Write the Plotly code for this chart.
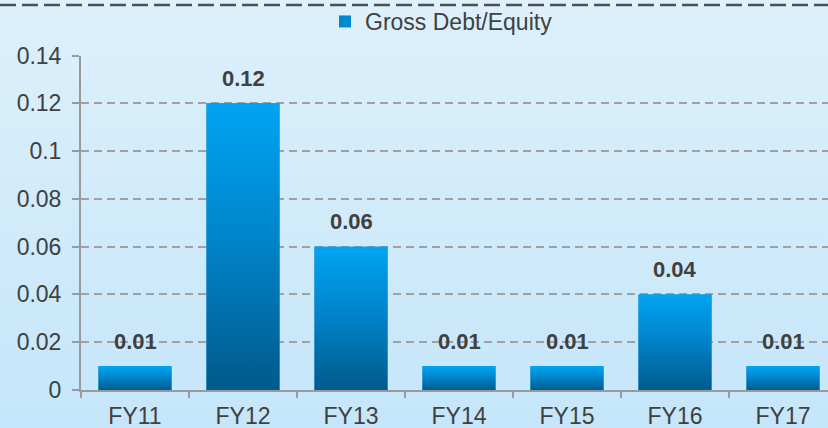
import plotly.graph_objects as go

# ---- data ----
categories = ["FY11", "FY12", "FY13", "FY14", "FY15", "FY16", "FY17"]
gross_debt_equity = [0.01, 0.12, 0.06, 0.01, 0.01, 0.04, 0.01]
value_labels = ["0.01", "0.12", "0.06", "0.01", "0.01", "0.04", "0.01"]
y_tick_vals = [0, 0.02, 0.04, 0.06, 0.08, 0.10, 0.12, 0.14]
y_tick_text = ["0", "0.02", "0.04", "0.06", "0.08", "0.1", "0.12", "0.14"]
series_name = "Gross Debt/Equity"

# ---- style ----
W, H = 828, 428
FONT = "Liberation Sans, Arial, sans-serif"
FS = 23
TXT = "#404040"
AX = "#9a9a9a"
BAR_W = 0.676
x_range = [-0.5, -0.5 + (W - 81) / 108.0]
bar_scale = [[0, "#005a8c"], [0.5, "#0082c8"], [1, "#00a4f2"]]

fig = go.Figure()

# background gradient (full paper)
fig.add_trace(go.Scatter(
    x=[0, 1, 1, 0, 0], y=[0, 0, 1, 1, 0], xaxis="x", yaxis="y",
    mode="lines", line=dict(width=0), fill="toself",
    fillgradient=dict(type="vertical", colorscale=[[0, "#c5e6fa"], [1, "#ddf0fb"]]),
    showlegend=False, hoverinfo="skip"))

# main bars (for legend / structure)
fig.add_trace(go.Bar(
    x=categories, y=gross_debt_equity, name=series_name,
    xaxis="x2", yaxis="y2", width=BAR_W,
    marker=dict(color="#0088d0", line=dict(width=0)),
    hoverinfo="skip"))

# gradient overlays, one per bar
for i, v in enumerate(gross_debt_equity):
    x0, x1 = i - BAR_W / 2, i + BAR_W / 2
    fig.add_trace(go.Scatter(
        x=[x0, x1, x1, x0, x0], y=[0, 0, v, v, 0], xaxis="x3", yaxis="y2",
        mode="lines", line=dict(width=0), fill="toself",
        fillgradient=dict(type="vertical", colorscale=bar_scale),
        showlegend=False, hoverinfo="skip"))

# value labels
for c, v, t in zip(categories, gross_debt_equity, value_labels):
    fig.add_annotation(x=c, y=v, xref="x2", yref="y2", text="<b>%s</b>" % t,
                       showarrow=False, yanchor="middle", yshift=25,
                       font=dict(family=FONT, size=FS - 1, color=TXT))

# top dashed rule
fig.add_shape(type="line", xref="paper", yref="paper", x0=0, x1=1,
              y0=1 - 5 / H, y1=1 - 5 / H,
              line=dict(color="#4f4f4f", width=2.5, dash="16px,6px"))

fig.update_layout(
    template="none",
    width=W, height=H,
    margin=dict(l=0, r=0, t=0, b=0, pad=0),
    paper_bgcolor="#d2ebfa", plot_bgcolor="rgba(0,0,0,0)",
    font=dict(family=FONT, size=FS, color=TXT),
    showlegend=True,
    legend=dict(orientation="h", x=325 / W, xanchor="left", y=1, yanchor="top",
                bgcolor="rgba(0,0,0,0)", font=dict(family=FONT, size=FS, color=TXT)),
    xaxis=dict(domain=[0, 1], range=[0, 1], visible=False, fixedrange=True, automargin=False),
    yaxis=dict(domain=[0, 1], range=[0, 1], visible=False, fixedrange=True, automargin=False),
    xaxis2=dict(domain=[81 / W, 1], anchor="y2", type="category", range=x_range,
                showline=True, linecolor=AX, linewidth=2, automargin=False,
                ticks="outside", tickson="boundaries", ticklen=6, tickwidth=2, tickcolor=AX,
                showgrid=False, zeroline=False, tickfont=dict(family=FONT, size=FS, color=TXT),
                ticklabelstandoff=4),
    xaxis3=dict(overlaying="x2", anchor="y2", range=x_range, visible=False, automargin=False),
    yaxis2=dict(domain=[38 / H, 372.5 / H], anchor="x2", range=[0, 0.14],
                tickvals=y_tick_vals, ticktext=y_tick_text, automargin=False,
                showline=True, linecolor=AX, linewidth=2,
                ticks="outside", ticklen=7, tickwidth=2, tickcolor=AX,
                showgrid=True, gridcolor="#a0a0a0", gridwidth=1.5, griddash="8px,5px",
                zeroline=False, tickfont=dict(family=FONT, size=FS, color=TXT),
                ticklabelstandoff=6),
)

fig.write_html("out.html", config={"displayModeBar": False},
               post_script="document.body.style.margin='0px';")
